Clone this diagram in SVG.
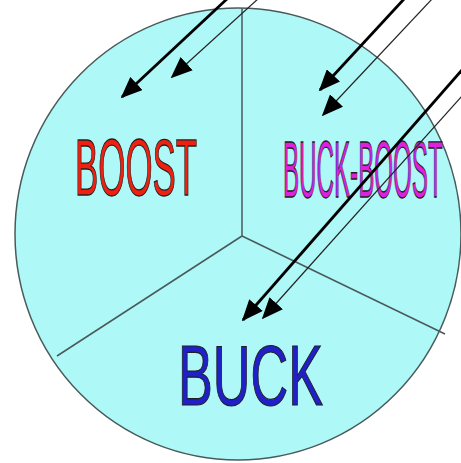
<svg xmlns="http://www.w3.org/2000/svg" width="461" height="463" viewBox="0 0 461 463">
<style>
.div{stroke:#4a5a5a;stroke-width:1.5;fill:none}
.thick{stroke:#000;stroke-width:2.8;fill:none}
.thin{stroke:#222;stroke-width:1.2;fill:none}
.lbl{font-family:"Liberation Sans",Arial,sans-serif;stroke:#202020;stroke-width:1;vector-effect:non-scaling-stroke}
</style>
<defs>
<marker id="ah" viewBox="0 0 12 10" refX="11" refY="5" markerWidth="22" markerHeight="18" markerUnits="userSpaceOnUse" orient="auto">
<path d="M0,0 L12,5 L0,10 z" fill="#000"/>
</marker>
</defs>
<rect width="461" height="463" fill="#fff"/>
<g id="wheel">
<ellipse cx="238" cy="234" rx="223" ry="226" fill="#aef8f8" stroke="#4a5a5a" stroke-width="1.5"/>
<line class="div" x1="242" y1="8" x2="242" y2="236"/>
<line class="div" x1="242" y1="236" x2="57" y2="356"/>
<line class="div" x1="242" y1="236" x2="445" y2="334"/>
</g>
<g id="boost">
<text class="lbl" transform="translate(75,195) scale(0.436,1)" font-size="80" fill="#f02010">BOOST</text>
</g>
<g id="buck-boost">
<text class="lbl" transform="translate(283,197) scale(0.302,1)" font-size="80" fill="#e020e0">BUCK-BOOST</text>
</g>
<g id="buck">
<text class="lbl" transform="translate(178,405) scale(0.607,1)" font-size="86" fill="#2020c8">BUCK</text>
</g>
<g id="connectors">
<line class="thick" x1="228" y1="-2" x2="122" y2="97" marker-end="url(#ah)"/>
<line class="thin" x1="259" y1="-2" x2="172" y2="77" marker-end="url(#ah)"/>
<line class="thick" x1="405" y1="-2" x2="320" y2="90" marker-end="url(#ah)"/>
<line class="thin" x1="433" y1="-2" x2="323" y2="115" marker-end="url(#ah)"/>
<line class="thick" x1="462" y1="70" x2="243" y2="320" marker-end="url(#ah)"/>
<line class="thin" x1="462" y1="96" x2="263" y2="318" marker-end="url(#ah)"/>
</g>
</svg>
